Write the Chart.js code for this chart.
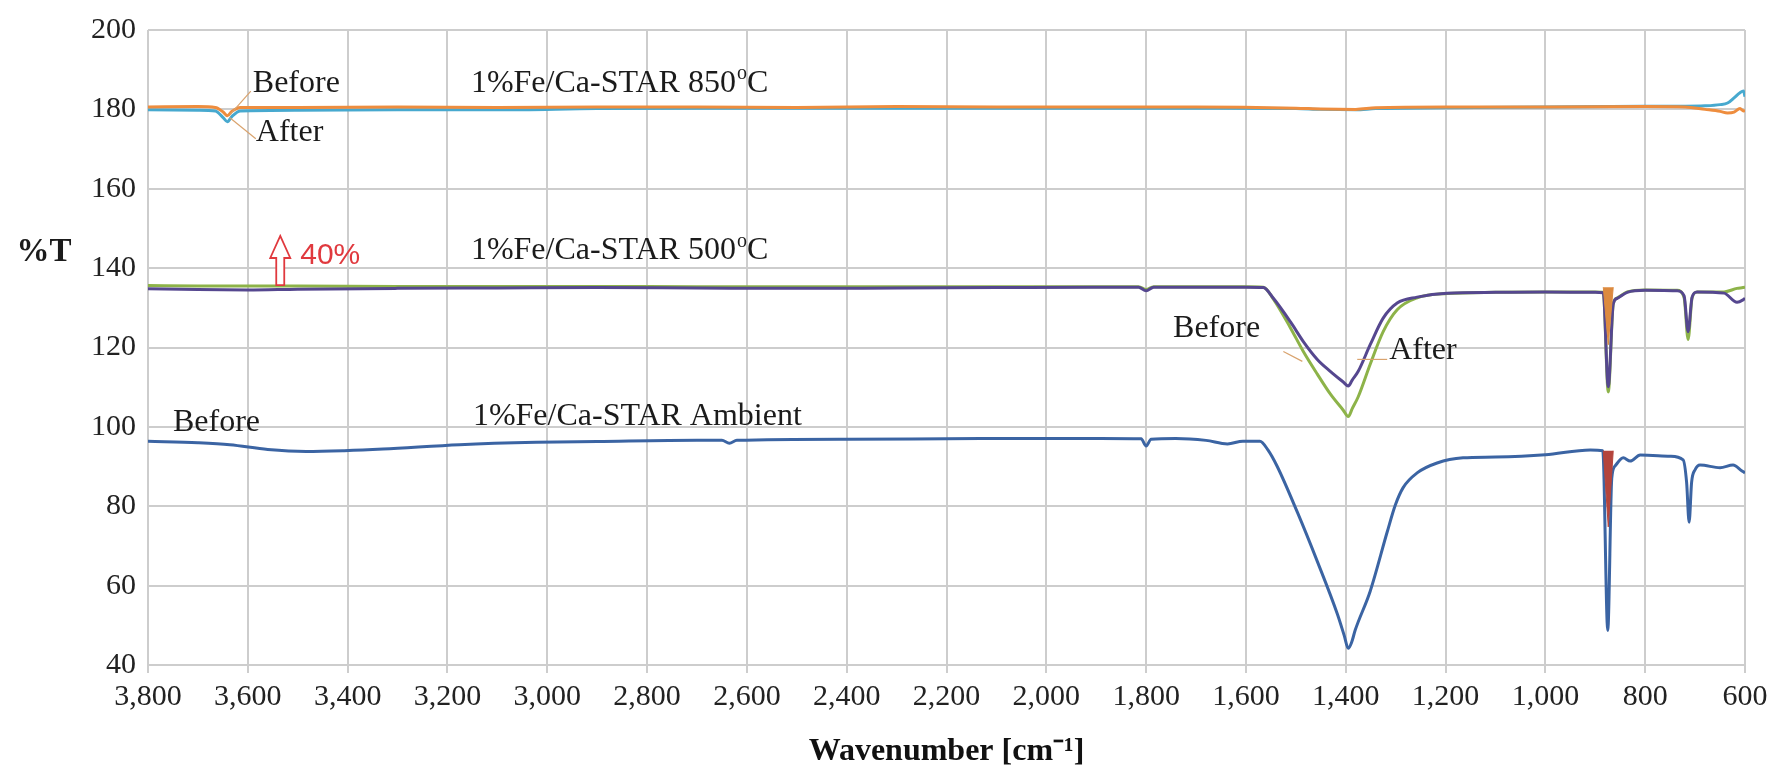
<!DOCTYPE html>
<html>
<head>
<meta charset="utf-8">
<title>FTIR spectra - 1%Fe/Ca-STAR</title>
<script src="https://cdn.jsdelivr.net/npm/chart.js@4.4.1/dist/chart.umd.min.js"></script>
<style>
  html, body { margin: 0; padding: 0; background: #ffffff; }
  #ftir { display: block; }
</style>
</head>
<body>
<canvas id="ftir" width="1787" height="771"></canvas>
<script>
// Tick labels
const xTickValues = [3800, 3600, 3400, 3200, 3000, 2800, 2600, 2400, 2200, 2000, 1800, 1600, 1400, 1200, 1000, 800, 600];
const yTickValues = [40, 60, 80, 100, 120, 140, 160, 180, 200];

// 850 C sample (offset spectra, %T)
const wn850 = [3800, 3700, 3665, 3650, 3641, 3632, 3615, 3500, 3300, 3100, 2900, 2700, 2500, 2300, 2100, 1900, 1700, 1500, 1450, 1380, 1340, 1200, 1000, 800, 720, 680, 650, 635, 622, 610, 603, 600];
const t850Before = [180.6, 180.7, 180.5, 179.4, 178.4, 179.5, 180.5, 180.5, 180.6, 180.5, 180.6, 180.6, 180.5, 180.7, 180.6, 180.6, 180.6, 180.3, 180.1, 180.0, 180.4, 180.6, 180.6, 180.7, 180.6, 180.0, 179.5, 179.1, 179.3, 180.2, 179.6, 179.8];
const t850After = [179.9, 179.8, 179.6, 178.0, 176.9, 178.2, 179.6, 179.8, 179.9, 179.9, 180.2, 180.3, 180.3, 180.3, 180.3, 180.3, 180.3, 180.2, 180.0, 179.9, 180.2, 180.4, 180.6, 180.8, 180.8, 180.9, 181.2, 181.6, 182.9, 184.2, 184.6, 183.2];

// 500 C sample
const wn500 = [3800, 3700, 3600, 3500, 3300, 3100, 2900, 2700, 2500, 2300, 2100, 1900, 1815, 1800, 1785, 1700, 1600, 1565, 1545, 1511, 1485, 1457, 1431, 1405, 1395, 1387, 1375, 1351, 1325, 1297, 1257, 1197, 1100, 1000, 900, 884, 874, 864, 856, 836, 800, 736, 722, 714, 706, 696, 642, 616, 604, 600];
const t500Before = [134.8, 134.6, 134.5, 134.7, 134.9, 135.0, 135.1, 135.0, 134.9, 135.0, 135.1, 135.2, 135.2, 134.3, 135.2, 135.2, 135.2, 135.1, 132.4, 126.5, 121.5, 117.0, 114.0, 111.3, 110.3, 111.8, 114.0, 120.7, 127.4, 131.2, 132.7, 133.7, 133.9, 134.0, 133.9, 133.8, 110.1, 131.0, 132.4, 133.9, 134.4, 134.3, 133.0, 124.0, 132.7, 134.0, 133.7, 131.4, 132.0, 132.4];
const t500After = [135.6, 135.5, 135.5, 135.5, 135.4, 135.4, 135.4, 135.3, 135.3, 135.3, 135.3, 135.3, 135.3, 134.6, 135.3, 135.3, 135.3, 135.2, 132.2, 125.0, 119.0, 113.3, 108.3, 104.2, 102.6, 104.6, 107.6, 115.8, 124.0, 129.5, 132.5, 133.6, 133.9, 134.0, 134.0, 133.9, 108.8, 131.0, 132.5, 134.0, 134.5, 134.4, 132.5, 122.0, 132.5, 134.0, 134.0, 134.9, 135.1, 135.2];

// Ambient sample
const wnAmb = [3800, 3700, 3636, 3560, 3483, 3407, 3329, 3176, 3022, 2900, 2700, 2650, 2635, 2620, 2400, 2200, 2000, 1891, 1810, 1800, 1790, 1741, 1680, 1637, 1606, 1572, 1556, 1538, 1497, 1457, 1417, 1403, 1395, 1388, 1381, 1351, 1317, 1301, 1285, 1257, 1217, 1165, 1100, 1000, 910, 885, 875, 867, 860, 844, 830, 810, 750, 724, 717, 712, 707, 700, 690, 650, 624, 606, 600];
const tAmbBefore = [96.4, 96.0, 95.5, 94.3, 93.8, 94.0, 94.4, 95.5, 96.1, 96.3, 96.6, 96.6, 95.9, 96.6, 96.9, 97.0, 97.1, 97.1, 97.0, 95.2, 96.9, 97.1, 96.6, 95.7, 96.4, 96.4, 94.2, 90.2, 78.5, 66.1, 52.9, 47.4, 44.2, 45.8, 48.8, 58.6, 73.5, 80.2, 84.7, 88.4, 90.9, 92.2, 92.4, 93.0, 94.2, 94.0, 48.7, 87.0, 90.2, 92.2, 91.4, 92.9, 92.6, 91.7, 86.0, 76.0, 86.0, 89.2, 90.4, 89.7, 90.4, 88.9, 88.4];

// Coloured bands behind the 875 cm-1 carbonate peak
const wnBand = [884, 874, 864];
const tBand500 = [135.2, 120.7, 135.2];
const tBandAmb = [94.0, 74.8, 94.0];

const toPoints = (xs, ys) => xs.map((v, i) => ({ x: v, y: ys[i] }));

// Text notes, placed in data units
const notes = [
    { text: 'Before', wn: 3590, t: 186.6 },
    { text: 'After', wn: 3584, t: 174.2 },
    { text: '1%Fe/Ca-STAR 850', sup: 'o', tail: 'C', wn: 3153, t: 186.6 },
    { text: '1%Fe/Ca-STAR 500', sup: 'o', tail: 'C', wn: 3153, t: 144.3 },
    { text: 'Before', wn: 1746, t: 124.7 },
    { text: 'After', wn: 1313, t: 119.3 },
    { text: 'Before', wn: 3750, t: 101.1 },
    { text: '1%Fe/Ca-STAR Ambient', wn: 3149, t: 102.6 }
];

// thin leader lines from labels to curves
const leaders = [
    [3636, 178.6, 3594, 184.6],
    [3636, 177.9, 3584, 172.6],
    [1525, 119.0, 1487, 116.5],
    [1317, 117.0, 1377, 117.0]
];

const serif = "'Liberation Serif', 'Times New Roman', serif";

function drawNote(ctx, n, x, y) {
    ctx.font = '32px ' + serif;
    ctx.textAlign = 'left';
    ctx.textBaseline = 'middle';
    ctx.fillText(n.text, x, y);
    if (n.sup) {
        let px = x + ctx.measureText(n.text).width;
        ctx.font = '20px ' + serif;
        ctx.fillText(n.sup, px + 1, y - 9);
        px += ctx.measureText(n.sup).width + 1;
        ctx.font = '32px ' + serif;
        ctx.fillText(n.tail, px, y);
    }
}

const notesPlugin = {
    id: 'notes',
    afterDatasetsDraw(chart) {
        const { ctx, chartArea, scales: { x, y } } = chart;
        ctx.save();

        // leader lines
        ctx.strokeStyle = '#d9a36e';
        ctx.lineWidth = 1.2;
        leaders.forEach(l => {
            ctx.beginPath();
            ctx.moveTo(x.getPixelForValue(l[0]), y.getPixelForValue(l[1]));
            ctx.lineTo(x.getPixelForValue(l[2]), y.getPixelForValue(l[3]));
            ctx.stroke();
        });

        ctx.fillStyle = '#1b1b1b';
        notes.forEach(n => drawNote(ctx, n, x.getPixelForValue(n.wn), y.getPixelForValue(n.t)));

        // %T axis label
        ctx.font = 'bold 33px ' + serif;
        ctx.textAlign = 'center';
        ctx.fillText('%T', chartArea.left - 104, y.getPixelForValue(144.0));

        // red "40%" offset arrow
        const cx = x.getPixelForValue(3535);
        const top = y.getPixelForValue(148.1);
        const bot = y.getPixelForValue(135.7);
        ctx.beginPath();
        ctx.moveTo(cx, top);
        ctx.lineTo(cx + 10, top + 22);
        ctx.lineTo(cx + 4, top + 22);
        ctx.lineTo(cx + 4, bot);
        ctx.lineTo(cx - 4, bot);
        ctx.lineTo(cx - 4, top + 22);
        ctx.lineTo(cx - 10, top + 22);
        ctx.closePath();
        ctx.fillStyle = '#ffffff';
        ctx.fill();
        ctx.strokeStyle = '#e0393e';
        ctx.lineWidth = 1.8;
        ctx.stroke();

        ctx.fillStyle = '#e0393e';
        ctx.font = "30px 'Liberation Sans', Arial, sans-serif";
        ctx.textAlign = 'left';
        ctx.fillText('40%', x.getPixelForValue(3495), y.getPixelForValue(143.1));

        ctx.restore();
    }
};

const line = (label, data, color, width) => ({
    label: label,
    data: data,
    borderColor: color,
    backgroundColor: color,
    borderWidth: width,
    pointRadius: 0,
    fill: false,
    cubicInterpolationMode: 'monotone'
});

const band = (label, data, color, base) => ({
    label: label,
    data: data,
    borderColor: color,
    backgroundColor: color,
    borderWidth: 1,
    pointRadius: 0,
    tension: 0,
    fill: { value: base }
});

const ctx = document.getElementById('ftir');

new Chart(ctx, {
    type: 'line',
    data: {
        datasets: [
            band('500 band', toPoints(wnBand, tBand500), '#dc8a3f', tBand500[0]),
            band('Ambient band', toPoints(wnBand, tBandAmb), '#b4443c', tBandAmb[0]),
            line('500 Before', toPoints(wn500, t500Before), '#55478f', 3),
            line('500 After', toPoints(wn500, t500After), '#8db349', 3),
            line('850 Before', toPoints(wn850, t850Before), '#ee8d3e', 3),
            line('850 After', toPoints(wn850, t850After), '#47a9cf', 3),
            line('Ambient Before', toPoints(wnAmb, tAmbBefore), '#3b64a3', 3)
        ]
    },
    options: {
        responsive: false,
        animation: false,
        devicePixelRatio: 1,
        layout: {
            padding: { left: 0, right: 42, top: 21, bottom: 0 }
        },
        plugins: {
            legend: { display: false },
            tooltip: { enabled: false }
        },
        scales: {
            x: {
                type: 'linear',
                reverse: true,
                min: 600,
                max: 3800,
                afterBuildTicks: s => { s.ticks = xTickValues.map(v => ({ value: v })); },
                afterFit: s => { s.height = 106; },
                grid: { color: '#cdcdcd', lineWidth: 2, tickLength: 8, tickColor: '#cdcdcd' },
                border: { color: '#cdcdcd', width: 2 },
                ticks: {
                    color: '#222222',
                    padding: 6,
                    maxRotation: 0,
                    autoSkip: false,
                    font: { family: serif, size: 30 },
                    callback: v => v.toLocaleString('en-US')
                },
                title: {
                    display: true,
                    text: 'Wavenumber [cm\u207B\u00B9]',
                    color: '#111111',
                    padding: { top: 0, bottom: 0 },
                    font: { family: serif, size: 32, weight: 'bold' }
                }
            },
            y: {
                type: 'linear',
                min: 40,
                max: 200,
                afterBuildTicks: s => { s.ticks = yTickValues.map(v => ({ value: v })); },
                afterFit: s => { s.width = 148; },
                grid: { color: '#cdcdcd', lineWidth: 2, drawTicks: false },
                border: { display: false },
                ticks: {
                    color: '#222222',
                    padding: 12,
                    font: { family: serif, size: 30 }
                }
            }
        }
    },
    plugins: [notesPlugin]
});
</script>
</body>
</html>
